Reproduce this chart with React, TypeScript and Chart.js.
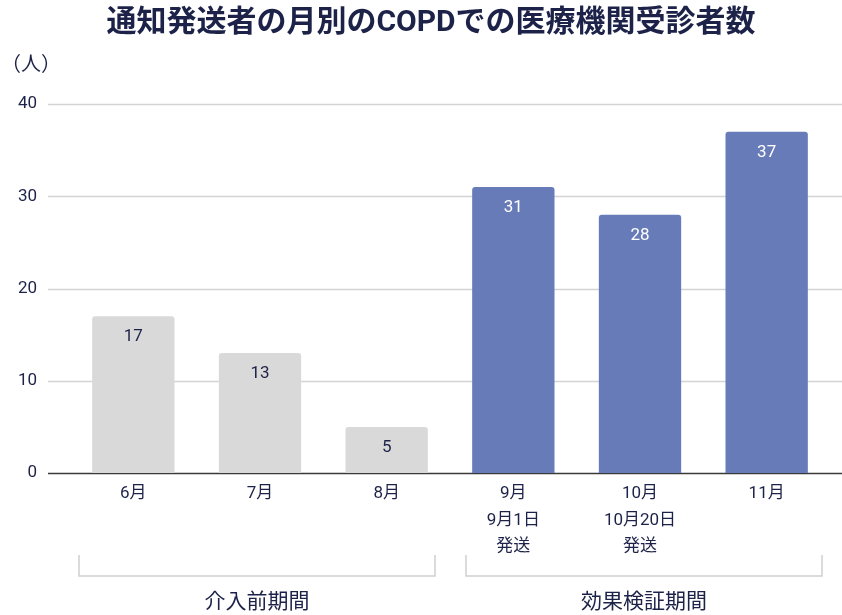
import React, { useEffect, useRef } from "react";
import { Chart, registerables } from "chart.js";

Chart.register(...registerables);

const title = "通知発送者の月別のCOPDでの医療機関受診者数";
const unitLabel = "（人）";
const categories = ["6月", "7月", "8月", "9月", "10月", "11月"];
const subLabels: string[][] = [[], [], [], ["9月1日", "発送"], ["10月20日", "発送"], []];
const values = [17, 13, 5, 31, 28, 37];
const barColors = ["#d9d9d9", "#d9d9d9", "#d9d9d9", "#687bb9", "#687bb9", "#687bb9"];
const valueLabelColors = ["#1c2248", "#1c2248", "#1c2248", "#ffffff", "#ffffff", "#ffffff"];
const groupNames = ["介入前期間", "効果検証期間"];
const groupStart = [0, 3];
const groupEnd = [2, 5];
const yTicks = [0, 10, 20, 30, 40];

const NAVY = "#1c2248";
const FONT = "Roboto, 'Noto Sans CJK JP', sans-serif";

const decorPlugin = {
  id: "decor",
  beforeDatasetsDraw(chart: any) {
    const { ctx, scales } = chart;
    const y = scales.y;
    ctx.save();
    yTicks.forEach((t) => {
      const py = Math.round(y.getPixelForValue(t)) + 0.5;
      ctx.beginPath();
      ctx.strokeStyle = t === 0 ? "#3a3a3a" : "#d4d4d4";
      ctx.lineWidth = 1.5;
      ctx.moveTo(48, py);
      ctx.lineTo(chart.width, py);
      ctx.stroke();
    });
    ctx.restore();
  },
  afterDatasetsDraw(chart: any) {
    const { ctx } = chart;
    const meta = chart.getDatasetMeta(0);
    ctx.save();
    ctx.font = `17px ${FONT}`;
    ctx.textAlign = "center";
    ctx.textBaseline = "middle";
    meta.data.forEach((bar: any, i: number) => {
      ctx.fillStyle = valueLabelColors[i];
      ctx.fillText(String(values[i]), bar.x, bar.y + 21);
    });
    ctx.restore();
  },
  afterDraw(chart: any) {
    const { ctx, scales } = chart;
    const x = scales.x;
    ctx.save();
    // title
    ctx.fillStyle = NAVY;
    ctx.font = `bold 30px ${FONT}`;
    ctx.textAlign = "center";
    ctx.textBaseline = "middle";
    ctx.fillText(title, 431, 23);
    // unit
    ctx.font = `20px ${FONT}`;
    ctx.textAlign = "left";
    ctx.fillText(unitLabel, 1, 66);
    // brackets
    const half = (x.getPixelForValue(1) - x.getPixelForValue(0)) / 2;
    const insetsL = [9, 16];
    const insetsR = [15, 8];
    ctx.strokeStyle = "#cfcfcf";
    ctx.lineWidth = 1.5;
    groupNames.forEach((name, g) => {
      const x1 = x.getPixelForValue(groupStart[g]) - half + insetsL[g];
      const x2 = x.getPixelForValue(groupEnd[g]) + half - insetsR[g];
      ctx.beginPath();
      ctx.moveTo(x1, 555);
      ctx.lineTo(x1, 576);
      ctx.lineTo(x2, 576);
      ctx.lineTo(x2, 555);
      ctx.stroke();
      ctx.fillStyle = NAVY;
      ctx.font = `21px ${FONT}`;
      ctx.textAlign = "center";
      ctx.textBaseline = "middle";
      ctx.fillText(name, (x1 + x2) / 2, 603);
    });
    ctx.restore();
  },
};

export default function App() {
  const ref = useRef<HTMLCanvasElement | null>(null);
  useEffect(() => {
    if (!ref.current) return;
    const labels = categories.map((c, i) => [c, ...subLabels[i]]);
    const chart = new Chart(ref.current, {
      type: "bar",
      data: {
        labels,
        datasets: [
          {
            data: values,
            backgroundColor: barColors,
            borderRadius: { topLeft: 3, topRight: 3, bottomLeft: 0, bottomRight: 0 },
            borderSkipped: false,
            barPercentage: 0.65,
            categoryPercentage: 1,
          },
        ],
      },
      options: {
        animation: false,
        responsive: true,
        maintainAspectRatio: false,
        layout: { padding: { top: 104, right: 12, left: 0, bottom: 0 } },
        plugins: {
          legend: { display: false },
          title: { display: false },
          tooltip: { enabled: false },
        },
        scales: {
          x: {
            grid: { display: false, drawTicks: false },
            border: { display: false },
            ticks: {
              color: NAVY,
              font: { size: 17, family: FONT, lineHeight: 1.55 },
              padding: 8,
              maxRotation: 0,
              autoSkip: false,
            },
            afterFit: (s: any) => {
              s.height = 142;
            },
          },
          y: {
            min: 0,
            max: 40,
            grid: { display: false, drawTicks: false },
            border: { display: false },
            ticks: {
              stepSize: 10,
              color: NAVY,
              font: { size: 17, family: FONT },
              padding: 33,
            },
            afterFit: (s: any) => {
              s.width = 70;
            },
          },
        },
      },
      plugins: [decorPlugin],
    });
    return () => chart.destroy();
  }, []);
  return (
    <div style={{ position: "fixed", left: 0, top: 0, width: 842, height: 615, background: "#fff" }}>
      <canvas ref={ref} />
    </div>
  );
}
